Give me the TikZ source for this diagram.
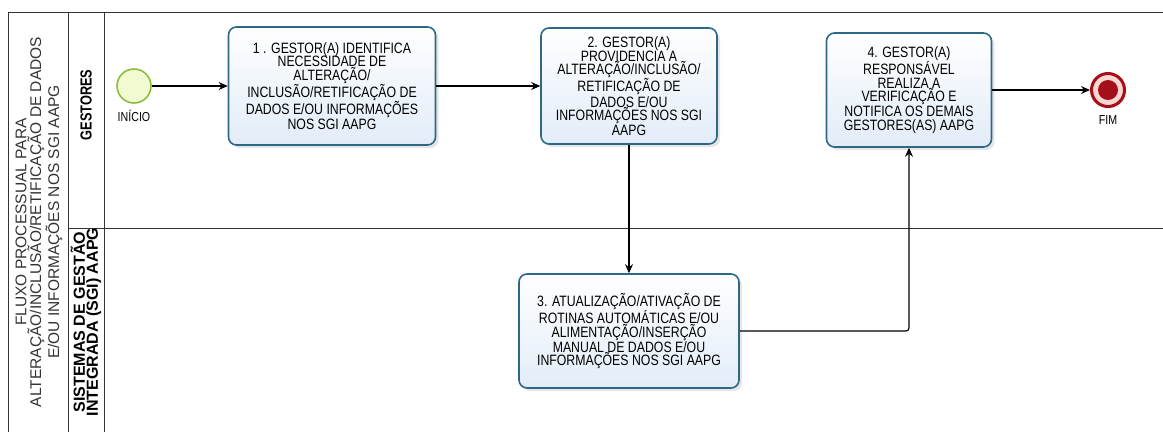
\documentclass[tikz,border=0pt]{standalone}
\usepackage{fontspec}
\setmainfont{Liberation Sans}
\newfontfamily\narrowfont[FakeStretch=0.82]{Liberation Sans}
\newfontfamily\lanefont[FakeStretch=0.8]{Liberation Sans}
\usetikzlibrary{arrows.meta, shadows}
\definecolor{taskline}{RGB}{45,105,135}
\definecolor{taskfill}{RGB}{226,236,248}
\definecolor{startline}{RGB}{140,190,60}
\definecolor{startfill}{RGB}{242,250,210}
\definecolor{endred}{RGB}{165,15,25}
\definecolor{endpink}{RGB}{250,215,210}

\tikzset{
  task/.style={draw=taskline, line width=1.6pt, rounded corners=8pt,
    top color=white, bottom color=taskfill,
    drop shadow={opacity=0.2, shadow xshift=3pt, shadow yshift=-3pt},
    align=center, inner sep=0pt, font=\narrowfont\fontsize{15}{13.6}\selectfont},
  flow/.style={line width=1.1pt, -{Stealth[length=9pt, width=8pt]}},
  lane/.style={draw=black!80, line width=0.9pt},
  evlabel/.style={font=\narrowfont\fontsize{13}{13}\selectfont}
}

\begin{document}
\begin{tikzpicture}[x=1pt, y=-1pt]
	\useasboundingbox (0,0) rectangle (1163,432);

	% pool and lanes
	\draw[lane] (1163,12) -- (8,12) -- (8,432);
	\draw[lane] (68,12) -- (68,432);
	\draw[lane] (104,12) -- (104,432);
	\draw[lane] (68,228) -- (1163,228);
	\node[rotate=90, align=center, text=black!80, font=\fontsize{15.5}{13.5}\selectfont] (pool) at (39,222)
		{FLUXO PROCESSUAL PARA\\ALTERAÇÃO/INCLUSÃO/RETIFICAÇÃO DE DADOS\\E/OU INFORMAÇÕES NOS SGI AAPG};
	\node[rotate=90, font=\lanefont\bfseries\fontsize{16}{16}\selectfont] (gestores) at (86,105) {GESTORES};
	\node[rotate=90, align=center, font=\bfseries\fontsize{16}{13}\selectfont] (sgi) at (86,322)
		{SISTEMAS DE GESTÃO\\INTEGRADA (SGI) AAPG};

	% events
	\node[circle, draw=startline, fill=startfill, line width=1.6pt, minimum size=34pt, inner sep=0pt,
		label={[evlabel, label distance=3pt]below:INÍCIO}] (inicio) at (134,86) {};
	\node[circle, draw=endred, fill=endpink, line width=3pt, minimum size=33pt, inner sep=0pt,
		drop shadow={opacity=0.15, shadow xshift=2pt, shadow yshift=-2pt},
		label={[evlabel, label distance=4pt]below:FIM}] (fim) at (1108,90) {};
	\node[circle, fill=endred, minimum size=20pt, inner sep=0pt] (fimcore) at (fim) {};

	% tasks
	\node[task, minimum width=207pt, minimum height=118pt] (t1) at (332,86)
		{1 . GESTOR(A) IDENTIFICA\\NECESSIDADE DE\\ALTERAÇÃO/\\INCLUSÃO/RETIFICAÇÃO DE\\DADOS E/OU INFORMAÇÕES\\NOS SGI AAPG};
	\node[task, minimum width=176pt, minimum height=116pt] (t2) at (629,86)
		{2. GESTOR(A)\\PROVIDENCIA A\\ALTERAÇÃO/INCLUSÃO/\\RETIFICAÇÃO DE\\DADOS E/OU\\INFORMAÇÕES NOS SGI\\AAPG};
	\node[task, minimum width=220pt, minimum height=114pt] (t3) at (629,331)
		{3. ATUALIZAÇÃO/ATIVAÇÃO DE\\ROTINAS AUTOMÁTICAS E/OU\\ALIMENTAÇÃO/INSERÇÃO\\MANUAL DE DADOS E/OU\\INFORMAÇÕES NOS SGI AAPG};
	\node[task, minimum width=165pt, minimum height=114pt] (t4) at (909,90)
		{4. GESTOR(A)\\RESPONSÁVEL\\REALIZA A\\VERIFICAÇÃO E\\NOTIFICA OS DEMAIS\\GESTORES(AS) AAPG};

	% sequence flows
	\draw[flow] (inicio) -- (t1);
	\draw[flow] (t1) -- (t2);
	\draw[flow] (t2) -- (t3);
	\draw[flow, rounded corners=3pt] (t3.east) -| (t4.south);
	\draw[flow] (t4.east |- fim) -- (fim);
\end{tikzpicture}
\end{document}
